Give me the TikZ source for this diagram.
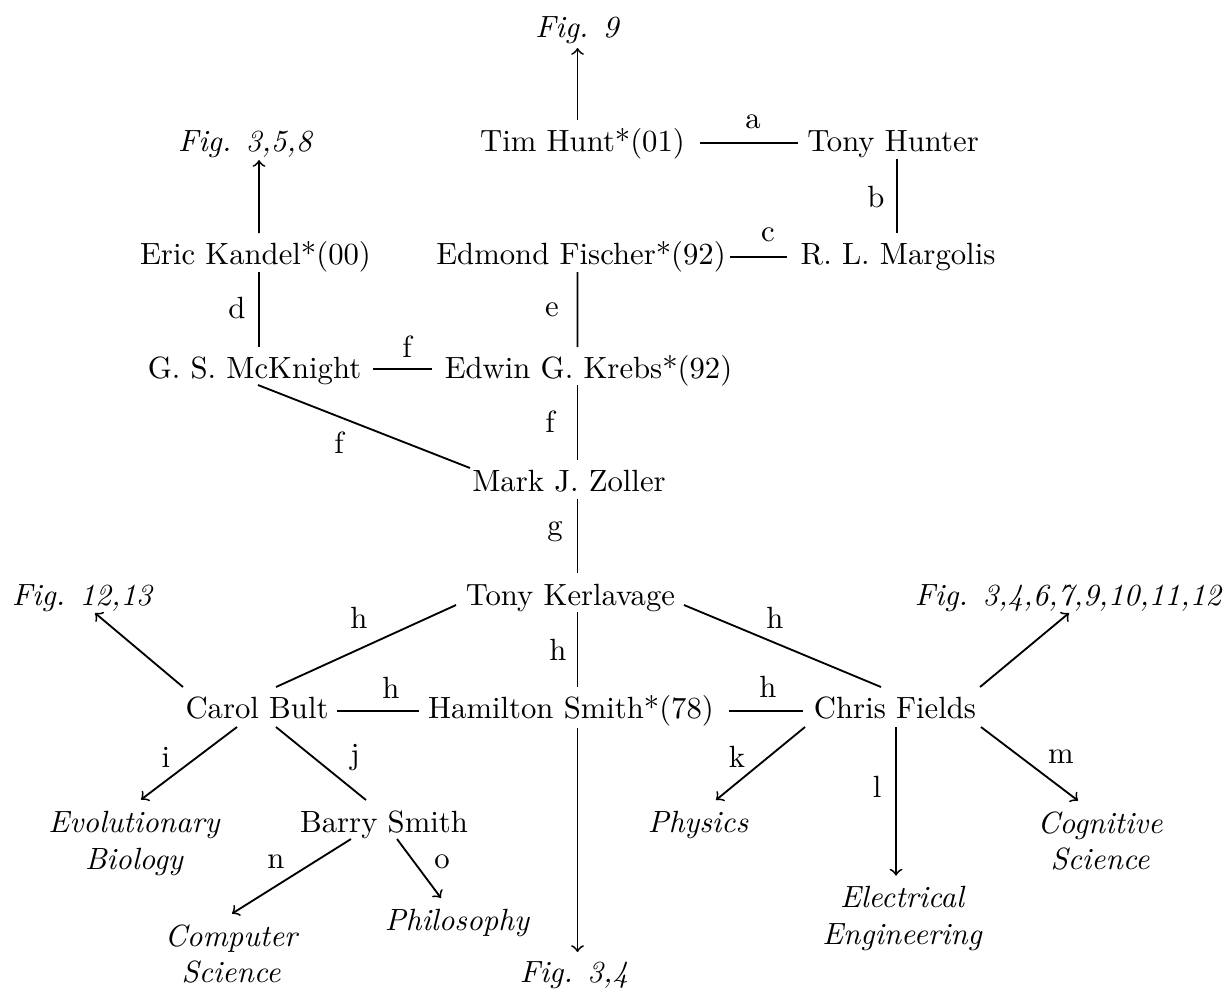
\documentclass[tikz,border=0pt]{standalone}
\usetikzlibrary{calc}
\begin{document}
\begin{tikzpicture}[x=0.3257pt,y=-0.3257pt,
  nd/.style={anchor=base,inner sep=3.333pt},
  fg/.style={nd,font=\itshape},
  ml/.style={anchor=north,align=center,font=\itshape,inner sep=3.333pt},
  lbl/.style={anchor=center,inner sep=0pt},
  ln/.style={line width=0.6pt},
  ar/.style={ln,->}]
\useasboundingbox (0,0) rectangle (1226,990);
% nodes
\node[fg] (fig9) at (577,37.5) {Fig. 9};
\node[nd] (hunt) at (582.5,151) {Tim Hunt*(01)};
\node[nd] (hunter) at (893,151) {Tony Hunter};
\node[fg] (fig358) at (245,151) {Fig. 3,5,8};
\node[nd] (kandel) at (255.5,264.5) {Eric Kandel*(00)};
\node[nd] (fischer) at (581,264.5) {Edmond Fischer*(92)};
\node[nd] (margolis) at (898,264.5) {R. L. Margolis};
\node[nd] (mcknight) at (254.5,378) {G. S. McKnight};
\node[nd] (krebs) at (588.5,378) {Edwin G. Krebs*(92)};
\node[nd] (zoller) at (569,491.5) {Mark J. Zoller};
\node[nd] (kerlavage) at (570.5,605) {Tony Kerlavage};
\node[fg] (fig1213) at (82,605) {Fig. 12,13};
\node[fg] (fig3412) at (1068,605) {Fig. 3,4,6,7,9,10,11,12};
\node[nd] (carol) at (257,718.5) {Carol Bult};
\node[nd] (hamilton) at (571,718.5) {Hamilton Smith*(78)};
\node[nd] (chris) at (895,718.5) {Chris Fields};
\node[ml] (evol) at (134,800.6) {Evolutionary\\Biology};
\node[nd] (barry) at (384,832) {Barry Smith};
\node[fg] (physics) at (698,832) {Physics};
\node[ml] (cognitive) at (1100,800.6) {Cognitive\\Science};
\node[ml] (electrical) at (902,875.6) {Electrical\\Engineering};
\node[fg] (philosophy) at (457,930) {Philosophy};
\node[ml] (computer) at (231,913.6) {Computer\\Science};
\node[fg] (fig34) at (574,982) {Fig. 3,4};
% connectors
\draw[ar] ($(hunt.base)+(-5,-31)$) -- ($(fig9.base)+(0.5,10.5)$);
\draw[ln] ($(hunt.base)+(117.5,-8)$) -- ($(hunter.base)+(-95,-8)$);
\draw[ln] ($(hunter.base)+(4,8)$) -- ($(margolis.base)+(-1,-31.5)$);
\draw[ln] ($(fischer.base)+(149,-7.5)$) -- ($(margolis.base)+(-111,-7.5)$);
\draw[ar] ($(kandel.base)+(3.5,-31.5)$) -- ($(fig358.base)+(14,9)$);
\draw[ln] ($(kandel.base)+(3.5,7.5)$) -- ($(mcknight.base)+(4.5,-31)$);
\draw[ln] ($(fischer.base)+(-3.5,7.5)$) -- ($(krebs.base)+(-11,-31)$);
\draw[ln] ($(mcknight.base)+(118.5,-9)$) -- ($(krebs.base)+(-156.5,-9)$);
\draw[ln] ($(krebs.base)+(-11,7)$) -- ($(zoller.base)+(8.5,-31.5)$);
\draw[ln] ($(mcknight.base)+(3.5,7)$) -- ($(zoller.base)+(-99,-23.5)$);
\draw[ln] ($(zoller.base)+(8.5,7.5)$) -- ($(kerlavage.base)+(7,-32)$);
\draw[ln] ($(kerlavage.base)+(7,7)$) -- ($(hamilton.base)+(6.5,-31.5)$);
\draw[ar] ($(hamilton.base)+(6.5,9.5)$) -- ($(fig34.base)+(3.5,-30)$);
\draw[ln] ($(kerlavage.base)+(-114.5,0)$) -- ($(carol.base)+(19,-31.5)$);
\draw[ln] ($(carol.base)+(80,-7.5)$) -- ($(hamilton.base)+(-152,-7.5)$);
\draw[ar] ($(carol.base)+(-74,-31.5)$) -- ($(fig1213.base)+(13,8)$);
\draw[ar] ($(carol.base)+(-20,8.5)$) -- ($(evol.north)+(7,-1)$);
\draw[ln] ($(carol.base)+(19,8.5)$) -- ($(barry.base)+(-18,-32)$);
\draw[ar] ($(barry.base)+(-33,7)$) -- ($(computer.north)+(1,0)$);
\draw[ar] ($(barry.base)+(13,7)$) -- ($(philosophy.base)+(-16,-32)$);
\draw[ln] ($(kerlavage.base)+(113.5,0)$) -- ($(chris.base)+(-14,-31.5)$);
\draw[ln] ($(hamilton.base)+(158,-7.5)$) -- ($(chris.base)+(-92,-7.5)$);
\draw[ar] ($(chris.base)+(85,-31.5)$) -- ($(fig3412.base)+(1,8)$);
\draw[ar] ($(chris.base)+(-90,8.5)$) -- ($(physics.base)+(18,-32)$);
\draw[ar] ($(chris.base)+(1,8.5)$) -- ($(electrical.north)+(-6,0)$);
\draw[ar] ($(chris.base)+(86,8.5)$) -- ($(cognitive.north)+(-22,0)$);
% labels
\node[lbl] (la) at (753,122) {a};
\node[lbl] (lb) at (876,197) {b};
\node[lbl] (lc) at (768,235) {c};
\node[lbl] (ld) at (237,308) {d};
\node[lbl] (le) at (552,310) {e};
\node[lbl] (lf1) at (407,347) {f};
\node[lbl] (lf2) at (550,422) {f};
\node[lbl] (lf3) at (339,443) {f};
\node[lbl] (lg) at (555,532) {g};
\node[lbl] (lh1) at (558,650) {h};
\node[lbl] (lh2) at (359,618) {h};
\node[lbl] (lh3) at (391,688) {h};
\node[lbl] (lh4) at (775,618) {h};
\node[lbl] (lh5) at (768,687) {h};
\node[lbl] (li) at (166,757) {i};
\node[lbl] (lj) at (355,758) {j};
\node[lbl] (ln) at (276,862) {n};
\node[lbl] (lo) at (442,862) {o};
\node[lbl] (lk) at (737,757) {k};
\node[lbl] (ll) at (877,787) {l};
\node[lbl] (lm) at (1061,757) {m};
\end{tikzpicture}
\end{document}
